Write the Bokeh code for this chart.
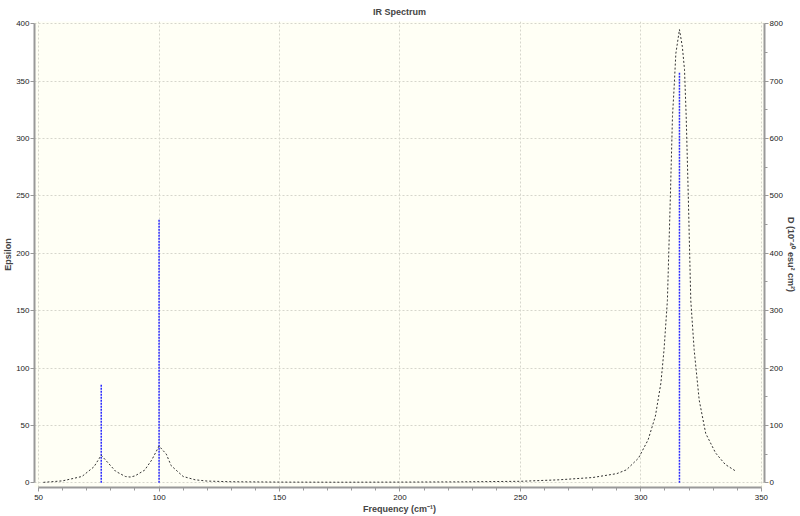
from bokeh.plotting import figure
from bokeh.models import Range1d, LinearAxis, FixedTicker
from bokeh.embed import file_html
from bokeh.resources import INLINE

# Broadened spectrum (epsilon)
freq_curve = [52, 60, 68, 73, 76, 79, 82, 86, 88, 90, 94, 97, 100, 103, 105, 110, 115,
              120, 130, 150, 175, 200, 225, 250, 266, 280, 290, 294, 299, 303, 306,
              308.3, 309.6, 311, 312.2, 313.1, 313.8, 314.5, 316, 317.2, 318.1, 318.8,
              319.7, 320.7, 322.1, 324.2, 326.9, 331, 335, 339.5]
eps_curve = [0.4, 1.7, 5.5, 14, 24, 17, 10, 5.5, 5, 6, 11, 20, 32, 25, 15, 5.5, 2.6,
             1.5, 0.9, 0.6, 0.5, 0.6, 0.8, 1.3, 2.6, 4.6, 8, 11.3, 21.5, 37.5, 58,
             87, 116, 159, 247, 319, 345, 374, 395, 380, 360, 319,
             247, 159, 116, 72, 43, 26, 16, 10]

# Stick spectrum (D, right axis)
stick_freq = [76, 100, 316]
stick_D = [172, 460, 716]

x_ticks = [50, 100, 150, 200, 250, 300, 350]
x_minor = [v for v in range(60, 350, 10) if v % 50 != 0]
eps_ticks = [0, 50, 100, 150, 200, 250, 300, 350, 400]
d_ticks = [0, 100, 200, 300, 400, 500, 600, 700, 800]
d_minor = [50, 150, 250, 350, 450, 550, 650, 750]

FONT = "Liberation Sans"

p = figure(frame_width=730, frame_height=466, output_backend="svg", toolbar_location=None,
           x_range=Range1d(48.3, 351.3), y_range=Range1d(-4.1, 402),
           min_border_left=5, min_border_right=5, min_border_top=5, min_border_bottom=5,
           x_axis_location=None, y_axis_location=None)
p.extra_y_ranges = {"D": Range1d(-8.2, 804)}

p.background_fill_color = "#fffff5"
p.border_fill_color = "white"
p.outline_line_color = None

p.title.text = "IR Spectrum"
p.title.align = "center"
p.title.text_font = FONT
p.title.text_font_size = "9px"
p.title.text_font_style = "bold"
p.title.standoff = 9

def style_axis(ax):
    ax.axis_line_color = "#999999"
    ax.axis_line_width = 2
    ax.major_tick_line_color = "#999999"
    ax.minor_tick_line_color = "#999999"
    ax.major_tick_out = 4
    ax.major_tick_in = 0
    ax.minor_tick_out = 3
    ax.minor_tick_in = 0
    ax.major_label_text_font = FONT
    ax.major_label_text_font_size = "8px"
    ax.major_label_text_color = "#222222"
    ax.major_label_standoff = 1
    ax.axis_label_text_font = FONT
    ax.axis_label_text_font_size = "9px"
    ax.axis_label_text_font_style = "bold"
    ax.axis_label_standoff = 0

xaxis = LinearAxis(ticker=FixedTicker(ticks=x_ticks, minor_ticks=x_minor),
                   axis_label="Frequency (cm⁻¹)", bounds=(50, 350))
style_axis(xaxis)
xaxis.major_label_standoff = 3
xaxis.axis_label_standoff = 1
p.add_layout(xaxis, "below")

yaxis = LinearAxis(ticker=FixedTicker(ticks=eps_ticks), axis_label="Epsilon", bounds=(0, 400))
style_axis(yaxis)
p.add_layout(yaxis, "left")

raxis = LinearAxis(y_range_name="D", ticker=FixedTicker(ticks=d_ticks, minor_ticks=d_minor),
                   axis_label="D (10⁻⁴⁰ esu² cm²)", bounds=(0, 800))
style_axis(raxis)
p.add_layout(raxis, "right")

p.xgrid.ticker = FixedTicker(ticks=x_ticks)
p.ygrid.ticker = FixedTicker(ticks=eps_ticks)
for g in (p.xgrid, p.ygrid):
    g.grid_line_color = "#d6d6cc"
    g.grid_line_dash = "2 2"
    g.grid_line_width = 1

p.segment(x0=stick_freq, y0=[0] * len(stick_freq), x1=stick_freq, y1=stick_D,
          y_range_name="D", line_color="#2a2aff", line_dash="2 1", line_width=1.5)
p.line(freq_curve, eps_curve, line_color="#333333", line_dash="2 2", line_width=1)

open("out.html", "w").write(file_html(p, INLINE))
